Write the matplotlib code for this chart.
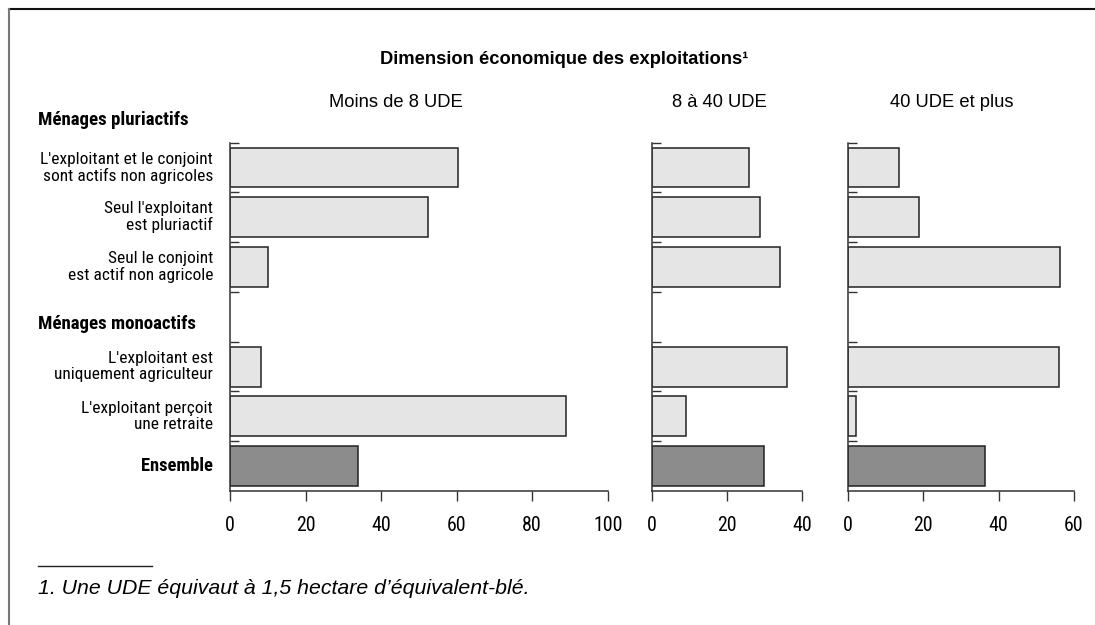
import numpy as np
import matplotlib.pyplot as plt
from matplotlib.lines import Line2D

# données (en %)
lignes = ["L'exploitant et le conjoint\nsont actifs non agricoles",
          "Seul l'exploitant\nest pluriactif",
          "Seul le conjoint\nest actif non agricole",
          "",
          "L'exploitant est\nuniquement agriculteur",
          "L'exploitant perçoit\nune retraite",
          "Ensemble"]
moins_8 = [60.4, 52.5, 10.1, np.nan, 8.2, 88.9, 34.0]
de_8_40 = [25.9, 28.7, 34.0, np.nan, 36.0, 9.1, 29.7]
plus_40 = [13.7, 19.0, 56.2, np.nan, 56.0, 2.2, 36.5]
panneaux = ['Moins de 8 UDE', '8 à 40 UDE', '40 UDE et plus']
xmax = [100, 40, 60]

W, H = 1095, 625
narrow = ['Roboto Condensed', 'Liberation Sans']
sans = ['Liberation Sans', 'DejaVu Sans']

fig = plt.figure(figsize=(W / 100, H / 100), dpi=100)


def px(x0, y0, x1, y1):
    return [x0 / W, 1 - y1 / H, (x1 - x0) / W, (y1 - y0) / H]


boites = [px(230, 142.7, 607.7, 491), px(651.7, 142.7, 802.3, 491), px(847.7, 142.7, 1074, 491)]
titre_x = [0.44, 0.447, 0.461]  # titres un peu décalés à gauche
couleurs = ['#e5e5e5'] * 6 + ['#8c8c8c']
pos = np.arange(len(lignes)) + 0.5

axes = []
for boite, vals, titre, xm, tx in zip(boites, [moins_8, de_8_40, plus_40], panneaux, xmax, titre_x):
    ax = fig.add_axes(boite)
    ax.barh(pos, vals, height=0.8, color=couleurs, edgecolor='#222222', linewidth=1.1)
    ax.set_xlim(0, xm)
    ax.set_ylim(len(lignes), 0)
    ax.set_xticks(np.arange(0, xm + 1, 20))
    ax.set_yticks(np.arange(len(lignes)))
    ax.set_yticklabels([])
    ax.tick_params(axis='y', direction='in', length=6.5, width=1, color='#333333')
    ax.tick_params(axis='x', direction='out', length=7, width=1, color='#333333', pad=11)
    for lab in ax.get_xticklabels():
        lab.set_family(narrow)
        lab.set_fontsize(14.3)
    for s in ['top', 'right']:
        ax.spines[s].set_visible(False)
    for s in ['left', 'bottom']:
        ax.spines[s].set_color('#333333')
        ax.spines[s].set_linewidth(1.1)
    ax.set_title(titre, fontsize=13.2, family=sans, pad=26, x=tx)
    axes.append(ax)

ax1 = axes[0]
for i, lab in enumerate(lignes):
    if not lab:
        continue
    gras = lab == 'Ensemble'
    ax1.annotate(lab, xy=(0, pos[i]), xycoords=('axes fraction', 'data'),
                 xytext=(-17, 0), textcoords='offset pixels', ha='right', va='center',
                 fontsize=13.3 if gras else 12.5, family=narrow,
                 fontweight='bold' if gras else 'normal', linespacing=1.08)

fig.text(38 / W, 1 - 120 / H, 'Ménages pluriactifs', fontsize=13.6, family=narrow,
         fontweight='bold', va='center', ha='left')
fig.text(38 / W, 1 - 324 / H, 'Ménages monoactifs', fontsize=13.6, family=narrow,
         fontweight='bold', va='center', ha='left')
fig.text(564 / W, 1 - 60 / H, 'Dimension économique des exploitations¹', fontsize=13.2,
         family=sans, fontweight='bold', ha='center', va='center')

# note
fig.add_artist(Line2D([38 / W, 152 / W], [1 - 566 / H, 1 - 566 / H], color='#222222', lw=1))
fig.text(38 / W, 1 - 588 / H, '1. Une UDE équivaut à 1,5 hectare d’équivalent-blé.',
         fontsize=15.3, family=sans, style='italic', ha='left', va='center')

# cadre
fig.add_artist(Line2D([9 / W, 1], [1 - 9 / H, 1 - 9 / H], color='#111111', lw=1.5))
fig.add_artist(Line2D([9 / W, 9 / W], [0, 1 - 9 / H], color='#777777', lw=1.5))

fig.savefig('out.png', dpi=100)
